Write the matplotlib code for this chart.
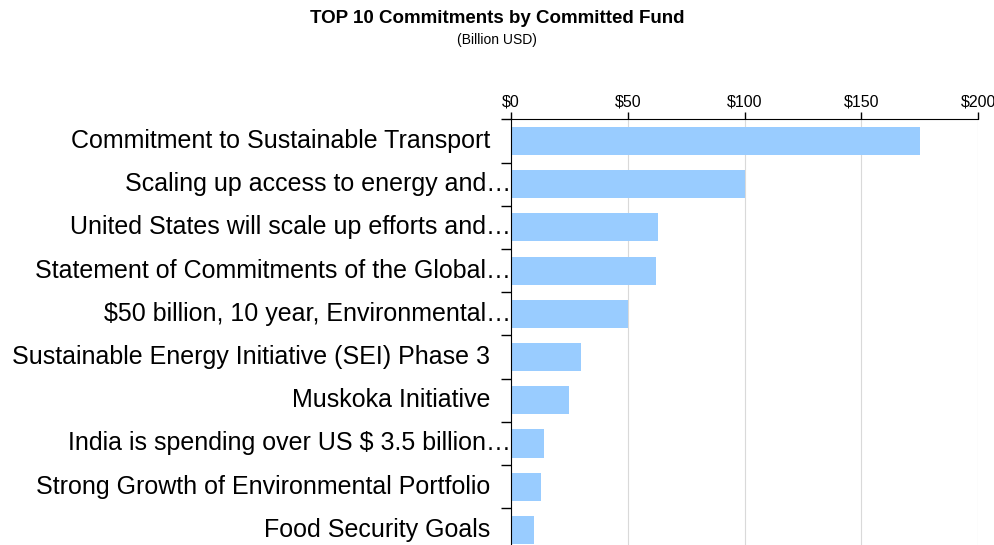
import numpy as np
import matplotlib.pyplot as plt
from matplotlib.ticker import FuncFormatter, FixedLocator
import matplotlib.transforms as mtransforms

plt.rcParams['font.family'] = ['Liberation Sans', 'DejaVu Sans']

# Datos del gráfico
compromisos = [
    'Commitment to Sustainable Transport',
    'Scaling up access to energy and…',
    'United States will scale up efforts and…',
    'Statement of Commitments of the Global…',
    '$50 billion, 10 year, Environmental…',
    'Sustainable Energy Initiative (SEI) Phase 3',
    'Muskoka Initiative',
    'India is spending over US $ 3.5 billion…',
    'Strong Growth of Environmental Portfolio',
    'Food Security Goals',
]
fondos = [175, 100, 63, 62, 50, 30, 25, 14, 13, 10]
ticks_x = [0, 50, 100, 150, 200]

fig = plt.figure(figsize=(9.94, 5.45), dpi=100)
ax = fig.add_axes([0.514, -0.012, 0.47, 0.793])

y = np.arange(len(compromisos))
ax.barh(y, fondos, height=0.65, color='#99CCFF', zorder=2)
ax.set_ylim(len(compromisos) - 0.5, -0.5)
ax.set_xlim(0, 200)

# Eje superior
ax.xaxis.tick_top()
ax.xaxis.set_major_locator(FixedLocator(ticks_x))
ax.xaxis.set_major_formatter(FuncFormatter(lambda v, p: f'${v:.0f}'))
ax.tick_params(axis='x', length=5, width=1, labelsize=11.5, pad=2, color='black')
ax.grid(axis='x', color='#d9d9d9', linewidth=0.8, zorder=0)

# Marcas en los límites de cada categoría
ax.set_yticks(np.arange(-0.5, len(compromisos) - 0.4, 1.0))
ax.set_yticklabels([])
ax.tick_params(axis='y', length=7, width=1, color='black')

for s in ['right', 'bottom']:
    ax.spines[s].set_visible(False)
ax.spines['left'].set_color('black')
ax.spines['top'].set_color('black')

# Etiquetas de categorías
for i, txt in enumerate(compromisos):
    dx = 0 if txt.endswith('…') else -21
    tr = ax.get_yaxis_transform() + mtransforms.ScaledTranslation(dx / 100, 0, fig.dpi_scale_trans)
    ax.text(0, i, txt, transform=tr, ha='right', va='center', fontsize=18,
            clip_on=False)

fig.text(0.5, 0.958, 'TOP 10 Commitments by Committed Fund', ha='center',
         fontsize=13.5, fontweight='bold')
fig.text(0.5, 0.92, '(Billion USD)', ha='center', fontsize=10)

fig.savefig('out.png', dpi=100)
